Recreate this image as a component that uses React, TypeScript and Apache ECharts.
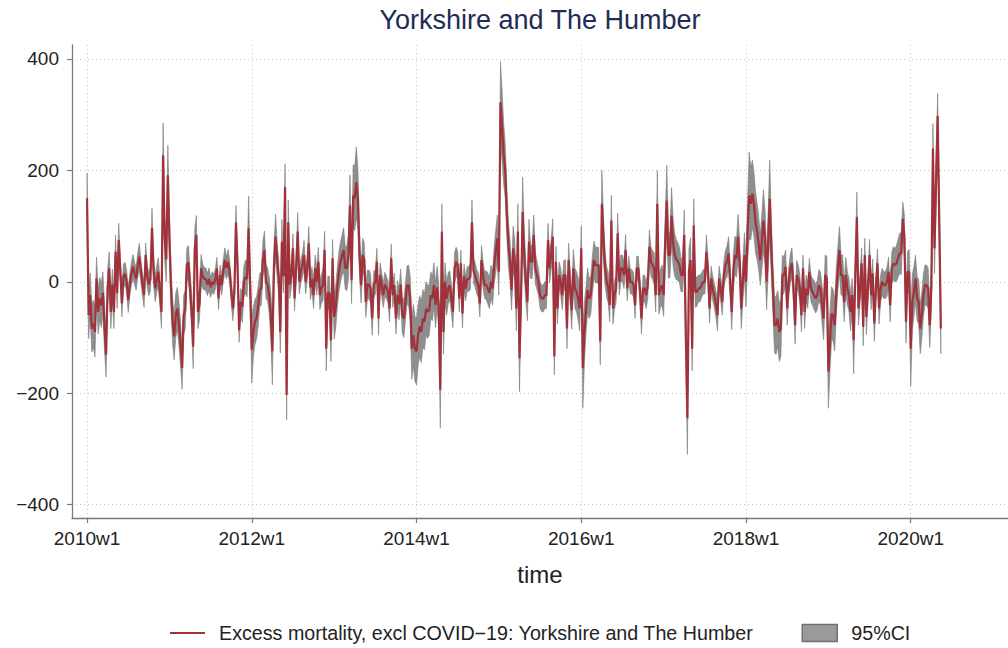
import React, { useEffect, useRef } from "react";
import * as echarts from "echarts";

// Weekly excess mortality (excl COVID-19), Yorkshire and The Humber.
const v2010 = [
  150, -60, -24, -84, -75, -90, 6, -54, -30, -42, -20, -80, -131,
  -10, 24, -54, -5, -54, 54, -20, 75, 20, -39, 10, 15, 0,
  -33, -5, 15, 27, 15, 5, 30, 45, 20, -5, -24, 48, 10,
  -5, 5, 97, 20, -12, 5, 18, -20, -54, 227, 80, 40, 191,
];
const v2011 = [
  80, -10, -72, -98, -60, -48, -75, -110, -155, -60, -50, 30, 35,
  -10, -50, -116, 60, 84, -54, -40, 24, 10, 5, 5, -5, 5,
  -10, 0, -5, 5, 24, -30, 12, -6, 20, 39, 25, 36, 20,
  -15, -48, -20, 107, 30, -87, -36, -45, 0, 9, 5, 96, -10,
];
const v2012 = [
  -122, -90, -72, -65, -45, -15, -12, 40, 57, 0, -5, -24, -60,
  -125, 30, 81, 40, 10, -90, 72, 10, 170, -203, 107, -5, 12,
  60, -30, 25, 90, 0, 20, 30, 48, 0, 24, 69, -10, 5,
  -24, 24, 0, 36, -24, -12, -5, 57, -120, -20, -20, -105, 42,
];
const v2013 = [
  -63, -45, -10, 18, 35, 48, 57, 25, 24, 45, 137, 3, 155,
  150, 179, 149, 50, -6, 48, 40, -36, -5, -5, -12, -66, -5,
  0, 36, -66, 12, -5, -24, -5, -10, -18, -48, 42, -24, -6,
  -66, -24, -40, -5, -60, -66, -36, -6, -6, -30, -120, -96, -120,
];
const v2014 = [
  -125, -95, -80, -90, -66, -72, -48, -54, -51, -24, -30, -6, -42,
  -10, -42, -194, 90, -90, 0, -30, -12, -6, -30, -54, 24, 36,
  30, -30, 33, -57, 10, -12, 5, 5, 10, 107, 20, 12, 0,
  -6, -39, 39, 12, -6, -6, -12, -20, 0, -12, 30, 54, 78,
];
const v2015 = [
  18, 322, 280, 230, 200, 125, 66, 40, -15, 60, 40, -48, 90,
  -137, -24, 125, 50, 0, -36, 72, 36, 36, 84, 24, 12, 0,
  -24, -30, -30, -24, -24, 75, 24, 48, 81, -134, 36, -48, 12,
  0, -24, 12, 12, -84, 39, -12, -51, 24, -12, -18, -30, -48,
];
const v2016 = [
  60, -155, -90, -50, -15, -30, -24, 12, 39, 30, 30, 30, -107,
  140, 80, 24, 0, -10, -42, 110, -48, -24, -12, 87, 0, 24,
  24, 12, 57, -12, 24, 0, 0, -6, -42, 24, 24, -12, -66,
  -12, -12, -24, -6, 63, 36, 30, 24, -24, 140, -24, -12, -6,
];
const v2017 = [
  -24, 72, 146, 48, 48, 119, 70, 48, 40, 36, 30, 12, 12,
  84, -96, -245, 20, 39, -120, 101, -18, -18, -12, -12, -6, 0,
  0, 54, 20, -48, 6, -12, -24, -40, -60, 6, -12, -36, 12,
  30, 36, 51, 0, -54, 18, 48, 42, 81, 36, -48, 0, 48,
];
const v2018 = [
  0, 90, 155, 140, 158, 140, 107, 90, 69, 39, 72, 110, 80,
  0, 72, 149, 60, -12, -78, -78, -66, -90, -84, 12, 12, 27,
  -48, 0, 24, 33, -12, -78, 12, 6, -12, -60, 24, -54, -12,
  -24, 18, -12, -18, -24, -30, -24, -6, -12, -40, -66, 12, 6,
];
const v2019 = [
  -161, -108, -57, -60, -78, -18, 24, 57, 12, 12, -36, 12, -12,
  -24, -54, -24, -105, 12, 116, -48, -12, 33, -81, 48, -63, -12,
  48, -24, 15, -75, -12, 33, -48, -12, 0, -6, -6, 0, 18,
  -42, 24, 33, 30, 33, 42, 51, 51, 113, 80, -72, 18, 18,
];
const v2020 = [
  -120, -36, -18, 6, -30, -36, -84, -60, -24, -6, -6, -12, -78,
  -12, 239, 60, 180, 298, 110, -84,
];

// Half-width of the 95% confidence band, read from the grey area.
const h2010 = [
  45, 42, 40, 42, 42, 45, 38, 40, 38, 40, 38, 42, 40,
  32, 30, 30, 28, 30, 30, 28, 30, 22, 24, 22, 20, 20,
  22, 20, 20, 22, 20, 20, 22, 24, 20, 20, 22, 22, 20,
  20, 22, 35, 25, 24, 24, 25, 25, 30, 58, 42, 40, 54,
];
const h2011 = [
  40, 38, 40, 42, 40, 38, 40, 40, 38, 36, 34, 30, 30,
  30, 32, 40, 35, 35, 30, 28, 25, 22, 20, 20, 20, 20,
  18, 18, 18, 18, 20, 20, 18, 18, 20, 22, 20, 22, 20,
  20, 22, 22, 30, 25, 22, 24, 28, 28, 30, 32, 58, 40,
];
const h2012 = [
  60, 45, 40, 38, 36, 30, 30, 32, 34, 30, 30, 32, 40,
  60, 34, 40, 32, 30, 38, 40, 30, 42, 45, 40, 25, 22,
  26, 22, 22, 34, 22, 22, 22, 26, 22, 22, 30, 22, 22,
  24, 24, 24, 26, 26, 26, 28, 34, 40, 30, 30, 38, 34,
];
const h2013 = [
  40, 38, 36, 36, 36, 36, 40, 38, 40, 40, 55, 42, 55,
  58, 63, 55, 40, 32, 30, 30, 28, 26, 26, 26, 30, 24,
  22, 24, 30, 22, 22, 22, 22, 20, 20, 24, 26, 22, 22,
  28, 26, 28, 28, 32, 34, 34, 34, 36, 40, 55, 55, 58,
];
const h2014 = [
  60, 55, 55, 55, 52, 50, 48, 48, 45, 42, 40, 40, 40,
  38, 40, 69, 50, 40, 34, 30, 28, 26, 26, 28, 28, 26,
  24, 24, 24, 26, 22, 22, 22, 22, 24, 40, 22, 22, 22,
  22, 24, 26, 24, 24, 26, 28, 28, 30, 30, 34, 38, 42,
];
const h2015 = [
  42, 73, 65, 55, 50, 45, 40, 38, 36, 40, 36, 40, 50,
  60, 40, 63, 40, 34, 34, 40, 30, 30, 36, 28, 26, 24,
  24, 24, 24, 24, 24, 30, 26, 28, 32, 33, 28, 28, 24,
  24, 26, 26, 28, 36, 30, 32, 34, 34, 36, 36, 38, 40,
];
const h2016 = [
  40, 72, 55, 42, 40, 36, 34, 34, 34, 32, 32, 32, 42,
  60, 40, 30, 28, 28, 30, 45, 28, 26, 24, 36, 24, 24,
  24, 24, 28, 22, 22, 22, 22, 22, 24, 22, 22, 22, 28,
  24, 24, 24, 24, 30, 26, 26, 28, 30, 60, 34, 34, 36,
];
const h2017 = [
  38, 45, 63, 42, 40, 50, 42, 38, 36, 34, 32, 30, 30,
  45, 45, 65, 40, 40, 40, 48, 28, 26, 24, 24, 22, 22,
  22, 30, 24, 26, 22, 22, 22, 24, 28, 22, 22, 24, 24,
  26, 28, 30, 30, 32, 32, 34, 34, 40, 36, 36, 36, 40,
];
const h2018 = [
  45, 55, 78, 65, 60, 58, 55, 50, 48, 45, 50, 55, 50,
  50, 55, 69, 50, 45, 50, 52, 50, 53, 50, 36, 32, 30,
  30, 26, 26, 28, 26, 34, 26, 24, 24, 30, 24, 30, 24,
  24, 24, 24, 24, 26, 26, 26, 28, 30, 34, 38, 36, 40,
];
const h2019 = [
  66, 55, 48, 46, 46, 42, 40, 42, 36, 36, 36, 32, 30,
  30, 34, 30, 60, 30, 45, 30, 26, 28, 34, 30, 32, 26,
  28, 26, 26, 32, 24, 26, 28, 24, 24, 24, 24, 26, 26,
  30, 28, 30, 30, 32, 34, 36, 38, 30, 40, 38, 36, 40,
];
const h2020 = [
  68, 50, 45, 42, 40, 40, 45, 42, 38, 36, 36, 36, 40,
  40, 45, 45, 45, 40, 45, 45,
];

const xTickWeeks = [0, 104, 208, 312, 416, 520];
const xTickLabels = ["2010w1", "2012w1", "2014w1", "2016w1", "2018w1", "2020w1"];
const yTickValues = [-400, -200, 0, 200, 400];

const excess = [
  ...v2010, ...v2011, ...v2012, ...v2013, ...v2014, ...v2015,
  ...v2016, ...v2017, ...v2018, ...v2019, ...v2020,
];
const halfWidth = [
  ...h2010, ...h2011, ...h2012, ...h2013, ...h2014, ...h2015,
  ...h2016, ...h2017, ...h2018, ...h2019, ...h2020,
];

const SERIES_NAME = "Excess mortality, excl COVID\u221219: Yorkshire and The Humber";
const CI_NAME = "95%CI";
const FONT = "'Liberation Sans', Arial, Helvetica, sans-serif";

export default function App() {
  const ref = useRef<HTMLDivElement>(null);

  useEffect(() => {
    if (!ref.current) return;
    const chart = echarts.init(ref.current, null, { renderer: "svg" });

    const lineData = excess.map((v, i) => [i, v]);
    const upper = excess.map((v, i) => v + halfWidth[i]);
    const lower = excess.map((v, i) => v - halfWidth[i]);

    const option: any = {
      animation: false,
      backgroundColor: "#ffffff",
      textStyle: { fontFamily: FONT },
      title: {
        text: "Yorkshire and The Humber",
        left: 540,
        top: 6,
        padding: 0,
        textAlign: "center",
        textStyle: {
          fontFamily: FONT,
          fontSize: 27,
          fontWeight: "normal",
          color: "#1e2d53",
        },
      },
      legend: {
        left: 170,
        top: 623,
        padding: 0,
        itemWidth: 35,
        itemHeight: 17,
        itemGap: 48,
        selectedMode: false,
        textStyle: {
          fontFamily: FONT,
          fontSize: 19.7,
          color: "#222",
          padding: [0, 0, 0, 9],
        },
        data: [
          {
            name: SERIES_NAME,
            icon: "path://M0,0L35,0L35,2.2L0,2.2Z",
            itemStyle: { color: "#a1323b", borderWidth: 0 },
          },
          {
            name: CI_NAME,
            icon: "rect",
            itemStyle: { color: "#9a9a9a", borderColor: "#707070", borderWidth: 1.5 },
          },
        ],
      },
      grid: {
        left: 72,
        right: 0,
        top: 45,
        bottom: 130,
        containLabel: false,
        outerBoundsMode: "none",
      },
      xAxis: {
        type: "value",
        min: -9.5,
        max: 581.4,
        name: "time",
        nameLocation: "middle",
        nameGap: 44,
        nameTextStyle: { fontFamily: FONT, fontSize: 24, color: "#222" },
        axisLine: { show: true, onZero: false, lineStyle: { color: "#7a7a7a", width: 1.3 } },
        axisTick: {
          show: true,
          length: 5,
          customValues: xTickWeeks,
          lineStyle: { color: "#7a7a7a", width: 1.2 },
        },
        axisLabel: {
          customValues: xTickWeeks,
          margin: 11,
          fontFamily: FONT,
          fontSize: 19,
          color: "#222",
          formatter: (v: number) => {
            const idx = xTickWeeks.indexOf(Math.round(v));
            return idx >= 0 ? xTickLabels[idx] : "";
          },
        },
        splitLine: {
          show: true,
          lineStyle: { color: "#c4c4c4", width: 1, type: [1, 3] },
        },
      },
      yAxis: {
        type: "value",
        min: -424,
        max: 425,
        axisLine: { show: true, onZero: false, lineStyle: { color: "#7a7a7a", width: 1.3 } },
        axisTick: {
          show: true,
          length: 5,
          customValues: yTickValues,
          lineStyle: { color: "#7a7a7a", width: 1.2 },
        },
        axisLabel: {
          customValues: yTickValues,
          margin: 13,
          fontFamily: FONT,
          fontSize: 19,
          color: "#222",
          formatter: (v: number) => (v < 0 ? "\u2212" + Math.abs(v) : String(v)),
        },
        splitLine: {
          show: true,
          lineStyle: { color: "#c4c4c4", width: 1, type: [1, 3] },
        },
      },
      series: [
        {
          name: CI_NAME,
          type: "custom",
          data: [[0, 0]],
          silent: true,
          itemStyle: { color: "#9a9a9a" },
          z: 2,
          renderItem: (_params: any, api: any) => {
            const pts: number[][] = [];
            for (let i = 0; i < upper.length; i++) pts.push(api.coord([i, upper[i]]));
            for (let i = lower.length - 1; i >= 0; i--) pts.push(api.coord([i, lower[i]]));
            return {
              type: "polygon",
              shape: { points: pts },
              style: {
                fill: "#8e8e8e",
                stroke: "#7a7a7a",
                lineWidth: 0.6,
                lineJoin: "round",
              },
            };
          },
        },
        {
          name: SERIES_NAME,
          type: "line",
          data: lineData,
          symbol: "none",
          itemStyle: { color: "#a1323b" },
          lineStyle: { color: "#a1323b", width: 2.2 },
          z: 3,
        },
      ],
    };

    chart.setOption(option);
    return () => chart.dispose();
  }, []);

  return (
    <div
      ref={ref}
      style={{ position: "fixed", left: 0, top: 0, width: 1008, height: 648 }}
    />
  );
}
